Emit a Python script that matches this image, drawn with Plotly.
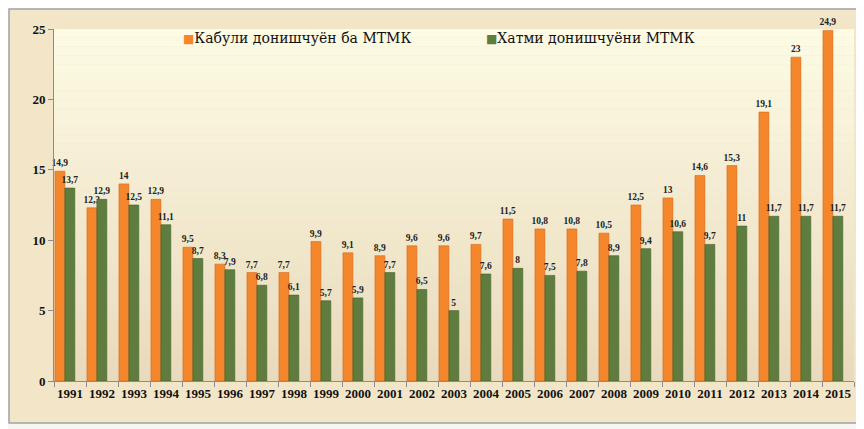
import plotly.graph_objects as go

years = [str(y) for y in range(1991, 2016)]
admitted = [14.9, 12.3, 14, 12.9, 9.5, 8.3, 7.7, 7.7, 9.9, 9.1, 8.9, 9.6, 9.6, 9.7, 11.5,
            10.8, 10.8, 10.5, 12.5, 13, 14.6, 15.3, 19.1, 23, 24.9]
graduated = [13.7, 12.9, 12.5, 11.1, 8.7, 7.9, 6.8, 6.1, 5.7, 5.9, 7.7, 6.5, 5, 7.6, 8,
             7.5, 7.8, 8.9, 9.4, 10.6, 9.7, 11, 11.7, 11.7, 11.7]
name_adm = "Кабули донишчуён ба МТМК"
name_grad = "Хатми донишчуёни МТМК"
col_adm = "#F4862B"
col_grad = "#5E7D3E"


def fmt(v):
    return ("%g" % v).replace(".", ",")


serif = "Liberation Serif, DejaVu Serif, serif"
legend_font = "DejaVu Serif, Liberation Serif, serif"

fig = go.Figure()
fig.add_trace(go.Bar(
    x=years, y=admitted, name=name_adm,
    width=0.31, offset=-0.47,
    marker=dict(color=col_adm, line=dict(color="#D8661A", width=0.6)),
    text=[fmt(v) for v in admitted], textposition="outside", constraintext="none",
    textfont=dict(family=serif, size=9.5, color="#222222", weight="bold"),
    cliponaxis=False,
))
fig.add_trace(go.Bar(
    x=years, y=graduated, name=name_grad,
    width=0.31, offset=-0.16,
    marker=dict(color=col_grad, line=dict(color="#45602A", width=0.6)),
    text=[fmt(v) for v in graduated], textposition="outside", constraintext="none",
    textfont=dict(family=serif, size=9.5, color="#222222", weight="bold"),
    cliponaxis=False,
))

shapes = []
# outer frame (beige panel with grey border)
shapes.append(dict(type="rect", xref="paper", yref="paper",
                   x0=-45/800, x1=1 + 12/800, y0=-42/352, y1=1 + 20/352,
                   line=dict(color="#a3a3a3", width=1.5), fillcolor="#F2E5C8",
                   layer="below"))
# gradient-like plot background
n = 40
top = (253, 251, 228)
bot = (232, 218, 188)
for i in range(n):
    t = i / (n - 1)
    c = tuple(int(round(top[k] + (bot[k] - top[k]) * t)) for k in range(3))
    shapes.append(dict(
        type="rect", xref="x domain", yref="y domain",
        x0=0, x1=1, y0=1 - (i + 1) / n, y1=1 - i / n,
        fillcolor="rgb(%d,%d,%d)" % c, line=dict(width=0), layer="below"))

# legend drawn as text annotations (marker square + label)
annotations = []
for name, col, xpos in [(name_adm, col_adm, 0.159), (name_grad, col_grad, 0.537)]:
    annotations.append(dict(
        xref="paper", yref="paper", x=xpos, y=0.974, xanchor="left", yanchor="middle",
        showarrow=False,
        text="<span style='color:%s;font-size:12px'>■</span>%s" % (col, name),
        font=dict(family=legend_font, size=14, color="#111111")))

fig.update_layout(
    width=856, height=421,
    margin=dict(l=46, r=10, t=21, b=48, autoexpand=False),
    paper_bgcolor="#F6F6F4",
    plot_bgcolor="rgba(0,0,0,0)",
    barmode="overlay",
    shapes=shapes,
    annotations=annotations,
    font=dict(family=serif, color="#111111"),
    showlegend=False,
    xaxis=dict(type="category", showline=True, linecolor="#8c8c8c", linewidth=1,
               ticks="outside", ticklen=5, tickcolor="#8c8c8c", tickson="boundaries",
               tickangle=0,
               tickfont=dict(family=serif, size=13, color="#111111", weight="bold"),
               showgrid=False, automargin=False),
    yaxis=dict(range=[0, 25], tickvals=[0, 5, 10, 15, 20, 25], showline=True,
               linecolor="#8c8c8c", linewidth=1, ticks="outside", ticklen=5,
               tickcolor="#8c8c8c", showgrid=False, zeroline=False,
               tickfont=dict(family=serif, size=13, color="#111111", weight="bold"),
               automargin=False),
)

fig.write_html("out.html")
